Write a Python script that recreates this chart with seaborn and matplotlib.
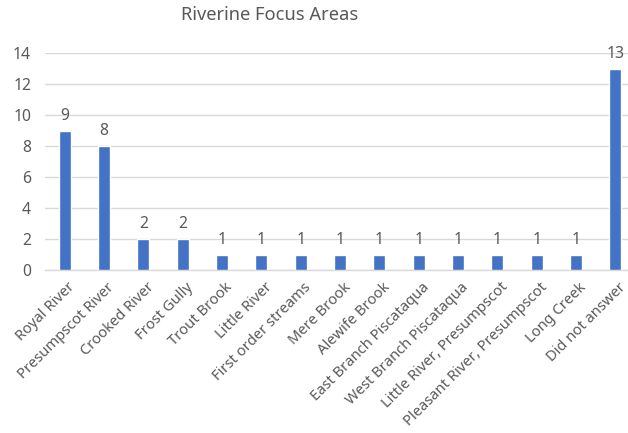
import matplotlib
matplotlib.use("Agg")
import matplotlib.pyplot as plt
import matplotlib.transforms as mtransforms
import seaborn as sns
import pandas as pd

areas = ["Royal River", "Presumpscot River", "Crooked River", "Frost Gully",
         "Trout Brook", "Little River", "First order streams", "Mere Brook",
         "Alewife Brook", "East Branch Piscataqua", "West Branch Piscataqua",
         "Little River, Presumpscot", "Pleasant River, Presumpscot",
         "Long Creek", "Did not answer"]
counts = [9, 8, 2, 2, 1, 1, 1, 1, 1, 1, 1, 1, 1, 1, 13]
y_ticks = [0, 2, 4, 6, 8, 10, 12, 14]

df = pd.DataFrame({"area": areas, "count": counts})

sns.set_theme(style="white")
plt.rcParams["font.family"] = ["Noto Sans", "DejaVu Sans"]
text_color = "#595959"
grid_color = "#D9D9D9"
bar_color = "#4472C4"
fs = 11.3
xfs = 10.6

fig = plt.figure(figsize=(6.28, 4.33), dpi=100)
W, H = 628, 433
left, right, top, bottom = 45, 635, 53, 270
ax = fig.add_axes([left / W, (H - bottom) / H, (right - left) / W, (bottom - top) / H])

sns.barplot(data=df, x="area", y="count", color=bar_color, width=0.31,
            saturation=1, ax=ax, zorder=3)

ax.set_ylim(0, 14)
ax.set_xlim(-0.5, len(areas) - 0.5)
ax.set_yticks(y_ticks)
ax.yaxis.grid(True, color=grid_color, linewidth=1, zorder=0)
ax.set_axisbelow(True)
for s in ["top", "right", "left"]:
    ax.spines[s].set_visible(False)
ax.spines["bottom"].set_color(grid_color)
ax.spines["bottom"].set_linewidth(1)
ax.set_xlabel("")
ax.set_ylabel("")
ax.tick_params(axis="both", length=0, colors=text_color, labelsize=fs)
ax.tick_params(axis="y", pad=10)
ax.tick_params(axis="x", pad=7)
ax.set_xticks(range(len(areas)))
ax.set_xticklabels(areas, rotation=45, ha="right", rotation_mode="anchor",
                   color=text_color, fontsize=xfs)
shift = mtransforms.ScaledTranslation(3 / 100, 0, fig.dpi_scale_trans)
for lab in ax.get_xticklabels():
    lab.set_transform(lab.get_transform() + shift)

for i, v in enumerate(counts):
    ax.annotate(str(v), (i, v), xytext=(0, 5), textcoords="offset points",
                ha="center", va="bottom", color=text_color, fontsize=fs)

fig.text(270 / W, 1 - 15 / H, "Riverine Focus Areas", ha="center", va="center",
         color=text_color, fontsize=13.2)

fig.savefig("out.png", dpi=100)
